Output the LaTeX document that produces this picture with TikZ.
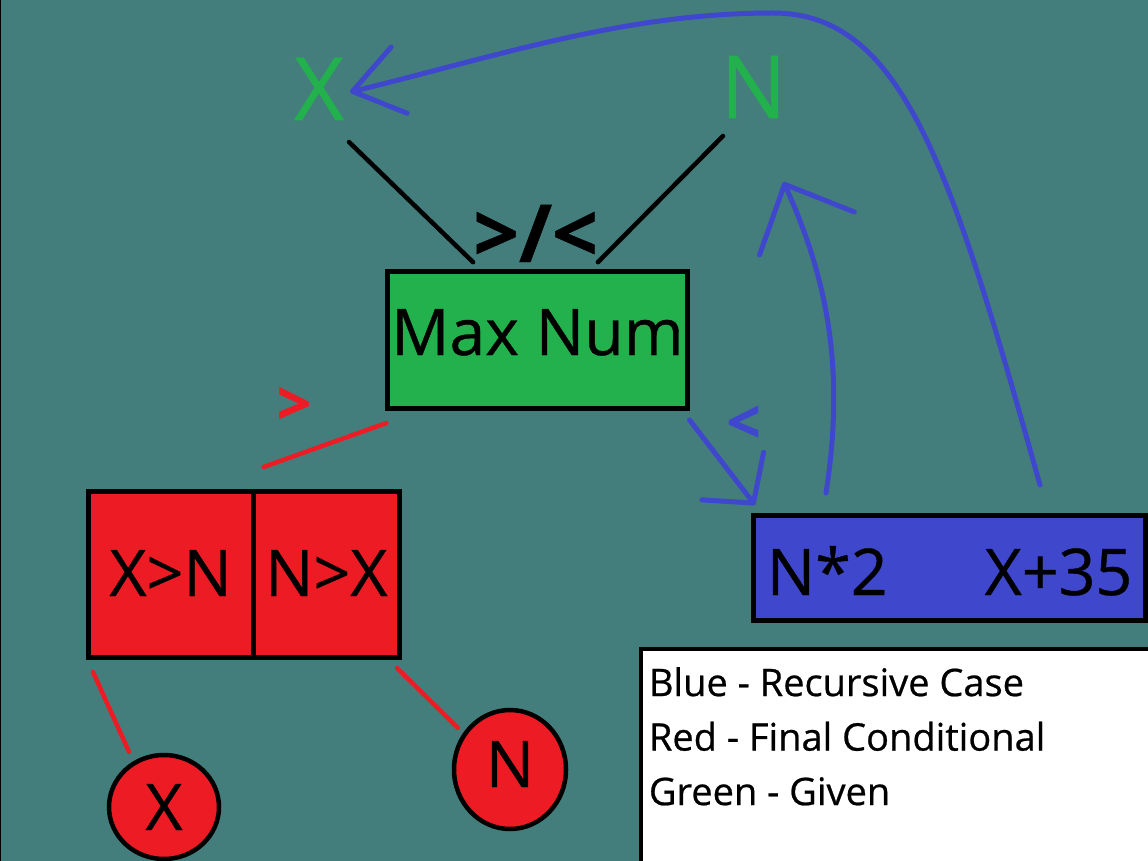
\documentclass[tikz,border=0pt]{standalone}
\usepackage{fontspec}
\setmainfont{Open Sans}[FakeBold=0.6]
\usepackage{tikz}
\usetikzlibrary{positioning,shapes,arrows.meta,calc}

\definecolor{paintteal}{RGB}{67,126,125}
\definecolor{paintgreen}{RGB}{34,177,76}
\definecolor{paintred}{RGB}{237,28,36}
\definecolor{paintblue}{RGB}{63,72,204}

\tikzset {
    style given/.style={
        fill=paintgreen,
        draw=black,
        line width=5pt,
        rectangle, % Set the shape as a rectangle
        minimum width=294pt,
        minimum height=137pt,
        text height=46pt,
        text depth=16pt,
        align=center,
    },
    style final/.style={
        fill=paintred,
        draw=black,
        line width=5pt,
        rectangle, % Set the shape as a rectangle
        minimum width=164.5pt,
        minimum height=166pt,
        text height=46pt,
        text depth=3pt,
        align=center,
    },
    style recursive/.style={
        fill=paintblue,
        draw=black,
        line width=5pt,
        rectangle, % Set the shape as a rectangle
        minimum width=392pt,
        minimum height=105pt,
        text height=54pt,
        text depth=0pt,
        align=center,
    },
    style leaf/.style={
        fill=paintred,
        draw=black,
        line width=4.5pt,
        ellipse,
        inner sep=0pt,
        text height=46pt,
        text depth=0pt,
    },
    style top/.style={
        text=paintgreen,
        inner sep=0pt,
        anchor=base,
        font=\fontsize{87}{100}\selectfont,
    },
    style sign/.style={
        inner sep=0pt,
        font=\bfseries\fontsize{60}{72}\selectfont,
    },
    style legend/.style={
        inner sep=0pt,
        align=left,
        font=\fontsize{38}{54.5}\selectfont,
    },
    stem/.style={draw=black, line width=4.5pt, line cap=round},
    red link/.style={draw=paintred, line width=4.5pt, line cap=round},
    blue link/.style={draw=paintblue, line width=5pt, line cap=round},
}

\begin{document}
\begin{tikzpicture}
        [x=1pt, y=-1pt, font=\fontsize{64.4}{78}\selectfont]

        \useasboundingbox (0,0) rectangle (1148,861);
        \fill[paintteal] (0,0) rectangle (1148,861);
        \draw[black, line width=2pt] (0,0) -- (0,861);

        % legend
        \fill[white] (641,649) rectangle (1150,863);
        \draw[black, line width=4.5pt] (641,863) -- (641,649) -- (1150,649);
        \node[style legend, anchor=north west] at (648.7,667) (legend)
            {Blue - Recursive Case\\Red - Final Conditional\\Green - Given};

        \node[style top] at (319,120) (topx) {X};
        \node[style top] at (753.5,118) (topn) {N};

        \node[style sign, font=\bfseries\fontsize{80}{96}\selectfont, anchor=base, text depth=0pt]
            at (535.5,262) (cmp) {>/<};

        \node[style given] at (537.5,340) (maxnum) {Max Num};
        \node[style final] at (170.75,574.5) (xgtn) {X>N};
        \node[style final, minimum width=146.5pt, right=-5pt of xgtn] (nxgt) {N>X};
        \node[style recursive] at (949.5,568) (bluebox) {N*2\hspace{97pt}X+35};
        \node[style leaf, minimum width=110pt, minimum height=104pt] at (164,807) (circx) {X};
        \node[style leaf, minimum width=112pt, minimum height=119pt, text depth=11pt]
            at (510,769.5) (circn) {N};

        \node[style sign, text=paintred] at (294,406) (gt) {>};
        \node[style sign, text=paintblue] at (743.5,424.5) (lt) {<};

        \draw[stem] ($(topx.base)+(30,22)$) -- (cmp.south west);
        \draw[stem] ($(topn.base)+(-30.5,18)$) -- (cmp.south east);

        \draw[red link] ($(maxnum.south west)+(1,12)$) -- ($(xgtn.north east)+(8,-22)$);
        \draw[red link] ($(xgtn.south west)+(7,12)$) -- ($(circx.north)+(-35,-1)$);
        \draw[red link] ($(nxgt.south east)+(-5,8)$) -- ($(circn.north west)+(-11,2)$);

        \coordinate (bigstart) at ($(bluebox.north east)+(-108,-28)$);
        \coordinate (bigtip) at ($(topx.base)+(31,-28)$);

        \draw[blue link, -{Straight Barb[length=34pt,width=78pt,round]}]
            ($(maxnum.south east)+(0,9)$) -- ($(bluebox.north west)+(4,-8)$);
        \draw[blue link, -{Straight Barb[length=54pt,width=104pt,round]}]
            ($(bluebox.north west)+(75,-20)$) .. controls (845,370) and (828,280) .. ($(topn.base)+(30,64)$);
        \draw[blue link, -{Straight Barb[length=48pt,width=68pt,round]}]
            (bigstart) .. controls (951,168) and (903,13) .. (773,13)
            .. controls (623,13) and (495,57) .. (bigtip);
    \end{tikzpicture}
\end{document}
